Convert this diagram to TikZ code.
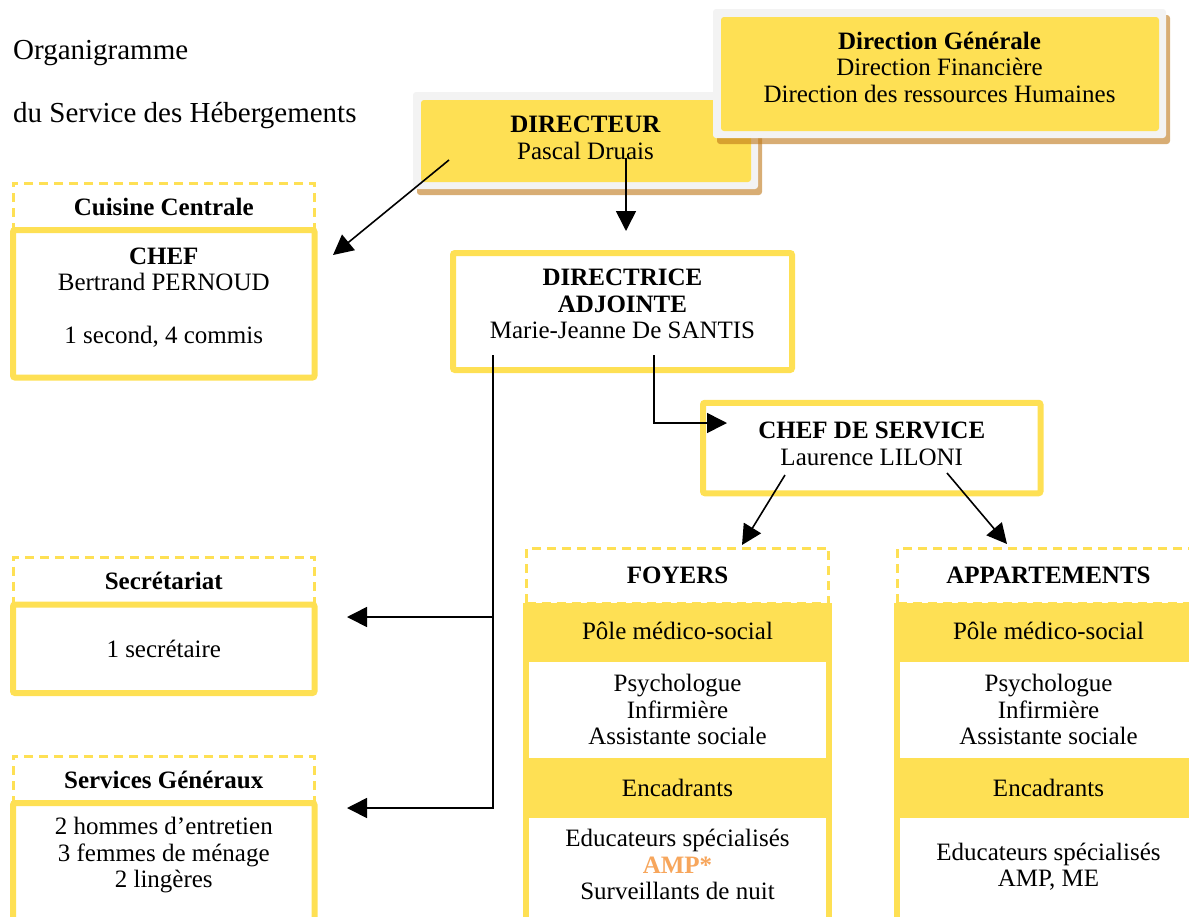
\documentclass[tikz,border=0pt]{standalone}
\usepackage{fontspec}
\setmainfont{Liberation Serif}
\usetikzlibrary{arrows.meta,positioning,shadows}
\definecolor{jaune}{HTML}{FEE054}
\definecolor{grisclair}{HTML}{F3F3F3}
\definecolor{ombre}{RGB}{190,119,23}
\definecolor{orangeamp}{HTML}{F7A65C}
\newcommand{\cale}[1]{\rule[-#1]{0pt}{#1}}

\begin{document}
\begin{tikzpicture}[x=1pt, y=-1pt,
    texte/.style={font=\fontsize{25}{26.5}\selectfont, align=center, inner sep=0pt, outer sep=0pt},
    titre/.style={font=\fontsize{29}{32}\selectfont, inner sep=0pt, anchor=base west},
    plaque/.style={texte, fill=grisclair, rounded corners=3pt,
      path picture={\fill[jaune] ([xshift=8pt,yshift=-8pt]path picture bounding box.north west)
        rectangle ([xshift=-7pt,yshift=7pt]path picture bounding box.south east);},
      drop shadow={shadow xshift=4pt, shadow yshift=-6pt, fill=ombre, opacity=.6}},
    entete/.style={texte, font=\fontsize{25}{26.5}\selectfont\bfseries, draw=jaune, line width=3pt, dash pattern=on 9pt off 6pt},
    cadre/.style={texte, draw=jaune, fill=white, line width=6pt, rounded corners=2pt},
    colonne/.style={cadre, sharp corners, minimum width=303pt},
    bande/.style={texte, fill=jaune, minimum width=309pt},
    fleche/.style={line width=1.6pt, -{Triangle[length=20pt,width=20pt]}}]
  \useasboundingbox (0,0) rectangle (1189,916);
  \clip (0,0) rectangle (1189,916);

  \node[titre] (titre) at (13,59.5) {Organigramme};
  \node[titre] (soustitre) at (13,122.5) {du Service des Hébergements};

  \node[plaque, minimum width=345pt, minimum height=97pt] (directeur) at (585.5,140.5) {\textbf{DIRECTEUR}\\Pascal Druais\cale{6pt}};
  \node[plaque, minimum width=453pt, minimum height=129pt] (generale) at (939.5,73.5) {\textbf{Direction Générale}\\Direction Financière\\Direction des ressources Humaines\cale{13pt}};

  \node[entete, minimum width=301.5pt, minimum height=47pt, anchor=north] (cuisinetitre) at (163.75,183) {Cuisine Centrale};
  \node[cadre, minimum width=301.5pt, minimum height=147.5pt, below=0pt of cuisinetitre] (cuisine) {\textbf{CHEF}\\Bertrand PERNOUD\\[26.5pt]1 second, 4 commis\cale{16.5pt}};

  \node[cadre, minimum width=339pt, minimum height=117pt] (adjointe) at (622.5,311.5) {\textbf{DIRECTRICE}\\\textbf{ADJOINTE}\\Marie-Jeanne De SANTIS\cale{15pt}};
  \node[cadre, minimum width=337.5pt, minimum height=90.5pt] (chefservice) at (871.75,448) {\textbf{CHEF DE SERVICE}\\Laurence LILONI\cale{9pt}};

  \node[entete, minimum width=301.5pt, minimum height=47.5pt, anchor=north] (secretariattitre) at (163.75,557) {Secrétariat};
  \node[cadre, minimum width=301.5pt, minimum height=88.5pt, below=0pt of secretariattitre] (secretariat) {1 secrétaire};

  \node[entete, minimum width=301.5pt, minimum height=47pt, anchor=north] (generauxtitre) at (163.75,756) {Services Généraux};
  \node[cadre, minimum width=301.5pt, minimum height=127pt, below=0pt of generauxtitre] (generaux) {2 hommes d’entretien\\3 femmes de ménage\\2 lingères\cale{28pt}};

  \node[entete, minimum width=302pt, minimum height=55pt, anchor=north] (foyers) at (677.5,548) {FOYERS};
  \node[bande, minimum height=55.5pt, below=0pt of foyers] (foyerspole) {Pôle médico-social};
  \node[colonne, minimum height=102.5pt, below=0pt of foyerspole] (foyersmedico) {Psychologue\\Infirmière\\Assistante sociale};
  \node[bande, minimum height=54pt, below=0pt of foyersmedico] (foyersencadrants) {Encadrants};
  \node[colonne, minimum height=112pt, below=0pt of foyersencadrants] (foyerseduc) {Educateurs spécialisés\\\textcolor{orangeamp}{\textbf{AMP*}}\\Surveillants de nuit\cale{13pt}};

  \node[entete, minimum width=302pt, minimum height=55pt, anchor=north] (appartements) at (1048.5,548) {APPARTEMENTS};
  \node[bande, minimum height=55.5pt, below=0pt of appartements] (appartpole) {Pôle médico-social};
  \node[colonne, minimum height=102.5pt, below=0pt of appartpole] (appartmedico) {Psychologue\\Infirmière\\Assistante sociale};
  \node[bande, minimum height=54pt, below=0pt of appartmedico] (appartencadrants) {Encadrants};
  \node[colonne, minimum height=112pt, below=0pt of appartencadrants] (apparteduc) {Educateurs spécialisés\\AMP, ME\cale{12.5pt}};

  \coordinate (dirgauche) at (449,160);
  \coordinate (dirbas) at (626,158);
  \coordinate (cuisinepointe) at (333,255);
  \coordinate (adjointepointe) at (626,231);
  \coordinate (adjgauche) at (493,355);
  \coordinate (adjdroite) at (654,355);
  \coordinate (secretariatpointe) at (347,617);
  \coordinate (generauxpointe) at (347,808);
  \coordinate (chefpointe) at (727,423);
  \coordinate (chefgauche) at (785,475);
  \coordinate (chefdroite) at (947,473);
  \coordinate (foyerspointe) at (742,545);
  \coordinate (appartpointe) at (1007,544);

  \path[fleche]
    (dirgauche) edge (cuisinepointe)
    (dirbas) edge (adjointepointe)
    (chefgauche) edge (foyerspointe)
    (chefdroite) edge (appartpointe)
    (adjgauche |- secretariatpointe) edge (secretariatpointe);
  \draw[fleche] (adjgauche) |- (generauxpointe);
  \draw[fleche] (adjdroite) |- (chefpointe);
\end{tikzpicture}
\end{document}
